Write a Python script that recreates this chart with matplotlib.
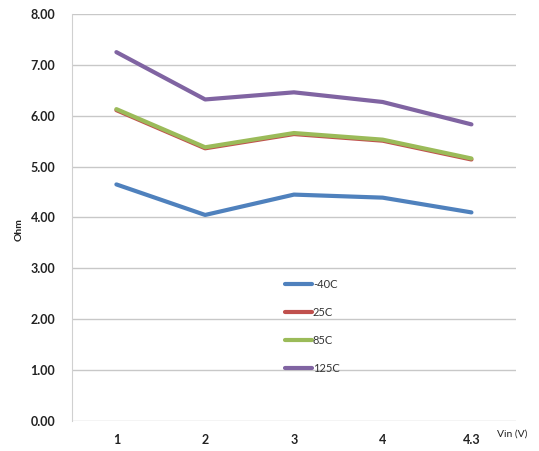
import numpy as np
import matplotlib
matplotlib.use('Agg')
import matplotlib.pyplot as plt

plt.rcParams['font.family'] = ['Lato', 'DejaVu Sans']

vin_labels = ['1', '2', '3', '4', '4.3']
ohm_m40 = [4.65, 4.05, 4.45, 4.39, 4.10]
ohm_25 = [6.11, 5.36, 5.64, 5.51, 5.14]
ohm_85 = [6.13, 5.38, 5.66, 5.53, 5.16]
ohm_125 = [7.25, 6.32, 6.46, 6.27, 5.83]

series = [
    ('-40C', ohm_m40, '#4F81BD'),
    ('25C', ohm_25, '#C0504D'),
    ('85C', ohm_85, '#9BBB59'),
    ('125C', ohm_125, '#8064A2'),
]

fig = plt.figure(figsize=(5.39, 4.51), dpi=100)
ax = fig.add_axes([0.1336, 0.0665, 0.8234, 0.9025])

x = np.arange(len(vin_labels))
for name, vals, col in series:
    ax.plot(x, vals, color=col, lw=3, label=name, solid_capstyle='round')

ax.set_xlim(-0.5, len(vin_labels) - 0.5)
ax.set_ylim(0, 8)
ax.set_yticks(np.arange(0, 9, 1))
ax.set_yticklabels(['%.2f' % v for v in range(9)], fontsize=9, fontweight='bold', color='#222222')
ax.set_xticks(x)
ax.set_xticklabels(vin_labels, fontsize=9, fontweight='bold', color='#222222')
ax.tick_params(length=0, pad=9)
ax.tick_params(axis='y', pad=12)
ax.grid(axis='y', color='#c8c8c8', lw=1)
ax.set_axisbelow(True)
for s in ['top', 'right', 'bottom']:
    ax.spines[s].set_visible(False)
ax.spines['left'].set_color('#d0d0d0')

fig.text(0.035, 0.49, 'Ohm', fontsize=7.5, fontweight='bold', rotation=90,
         ha='center', va='center', color='#222222')
fig.text(0.922, 0.037, 'Vin (V)', fontsize=7.5, ha='left', va='center', color='#222222')

leg = ax.legend(loc='upper left', bbox_to_anchor=(0.48, 0.35), frameon=False,
                fontsize=8, handlelength=2.4, handletextpad=0.1, labelspacing=1.55,
                borderaxespad=0, borderpad=0)
for t in leg.get_texts():
    t.set_color('#333333')

fig.savefig('out.png', dpi=100)
